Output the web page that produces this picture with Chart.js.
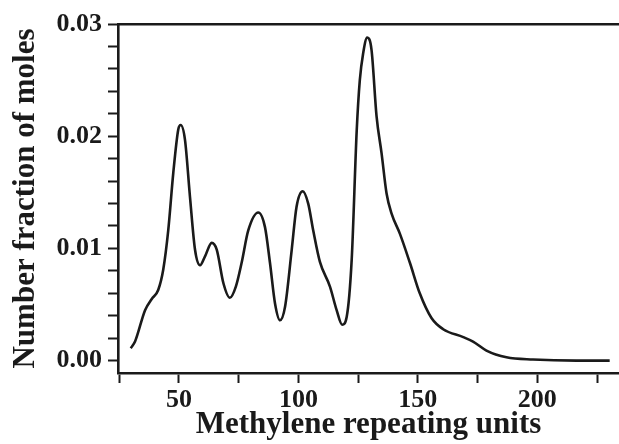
<!DOCTYPE html>
<html>
<head>
<meta charset="utf-8">
<script src="https://cdn.jsdelivr.net/npm/chart.js@4/dist/chart.umd.min.js"></script>
<style>
  html, body { margin: 0; padding: 0; background: #fff; }
  #wrap { width: 619px; height: 444px; }
</style>
</head>
<body>
<div id="wrap"><canvas id="distribution"></canvas></div>
<script>
// Methylene repeating units (x) and number fraction of moles (y)
const units = [29.8, 31.6, 35.8, 38.6, 41.3, 43.4, 45.5, 47.6, 49.7, 50.7,
  52.5, 54.6, 56.7, 58.8, 60.9, 63.7, 65.8, 68.6, 71.3, 73.8,
  76.2, 79.0, 83.2, 86.0, 88.1, 90.2, 92.3, 94.4, 97.2, 99.2,
  101.8, 104.1, 106.2, 109.0, 113.2, 116.0, 118.3, 120.2, 122.3, 124.4,
  125.7, 127.1, 128.8, 130.6, 132.7, 134.8, 136.9, 139.0, 142.5, 146.7,
  150.8, 155.7, 160.6, 169.0, 173.1, 178.7, 187.1, 198.2, 216.4, 230.3];
const fraction = [0.0011, 0.0017, 0.0045, 0.0055, 0.0063, 0.0081, 0.0116, 0.0167, 0.0206, 0.0210,
  0.0197, 0.0146, 0.0099, 0.0085, 0.0093, 0.0105, 0.0099, 0.0069, 0.0056, 0.0066,
  0.0087, 0.0116, 0.0132, 0.0119, 0.0087, 0.0051, 0.0036, 0.0048, 0.0099, 0.0137,
  0.0151, 0.0140, 0.0116, 0.0088, 0.0066, 0.0045, 0.0032, 0.0039, 0.0090, 0.0205,
  0.0250, 0.0274, 0.0288, 0.0277, 0.0218, 0.0185, 0.0149, 0.0131, 0.0113, 0.0087,
  0.0060, 0.0038, 0.0028, 0.0021, 0.0017, 0.0009, 0.0003, 0.0001, 0.0000, 0.0000];

// tick marks; only the labelled ones carry text
const xTicks = [25, 50, 75, 100, 125, 150, 175, 200, 225];
const xLabels = ['', '50', '', '100', '', '150', '', '200', ''];
const yTicks = [0, 0.002, 0.004, 0.006, 0.008, 0.01, 0.012, 0.014, 0.016, 0.018,
  0.02, 0.022, 0.024, 0.026, 0.028, 0.03];
const yLabels = ['0.00', '', '', '', '', '0.01', '', '', '', '',
  '0.02', '', '', '', '', '0.03'];

const points = units.map((u, i) => ({ x: u, y: fraction[i] }));
const serif = 'Liberation Serif';
const ink = '#1a1a1a';

new Chart(document.getElementById('distribution').getContext('2d'), {
  type: 'line',
  data: {
    datasets: [{
      data: points,
      borderColor: ink,
      borderWidth: 2.6,
      pointRadius: 0,
      cubicInterpolationMode: 'monotone',
      fill: false
    }]
  },
  options: {
    responsive: true,
    maintainAspectRatio: false,
    animation: false,
    layout: { padding: 0 },
    plugins: { legend: { display: false }, tooltip: { enabled: false } },
    scales: {
      x: {
        type: 'linear',
        min: 24.47,
        max: 234.2,
        afterFit: s => { s.height = 71; },
        afterBuildTicks: s => { s.ticks = xTicks.map(v => ({ value: v })); },
        ticks: {
          autoSkip: false,
          maxRotation: 0,
          padding: 2,
          color: ink,
          font: { family: serif, size: 26, weight: 'bold' },
          callback: (v, i) => xLabels[i]
        },
        grid: { drawOnChartArea: false, tickLength: 10, tickColor: ink, tickWidth: 2 },
        border: { color: ink, width: 2.6 },
        title: {
          display: true,
          text: 'Methylene repeating units',
          color: ink,
          padding: { top: 0, bottom: 0 },
          font: { family: serif, size: 31, weight: 'bold' }
        }
      },
      x2: {
        type: 'linear',
        position: 'top',
        min: 0,
        max: 1,
        afterFit: s => { s.height = 24; },
        ticks: { display: false },
        grid: { display: false },
        border: { color: ink, width: 2.6 }
      },
      y: {
        min: -0.0011,
        max: 0.03,
        afterFit: s => { s.width = 118; },
        afterBuildTicks: s => { s.ticks = yTicks.map(v => ({ value: v })); },
        ticks: {
          autoSkip: false,
          padding: 6,
          color: ink,
          font: { family: serif, size: 26, weight: 'bold' },
          callback: (v, i) => yLabels[i]
        },
        grid: { drawOnChartArea: false, tickLength: 10, tickColor: ink, tickWidth: 2 },
        border: { color: ink, width: 2.6 },
        title: {
          display: true,
          text: 'Number fraction of moles',
          color: ink,
          padding: { top: 7, bottom: 0 },
          font: { family: serif, size: 31, weight: 'bold' }
        }
      }
    }
  }
});
</script>
</body>
</html>
